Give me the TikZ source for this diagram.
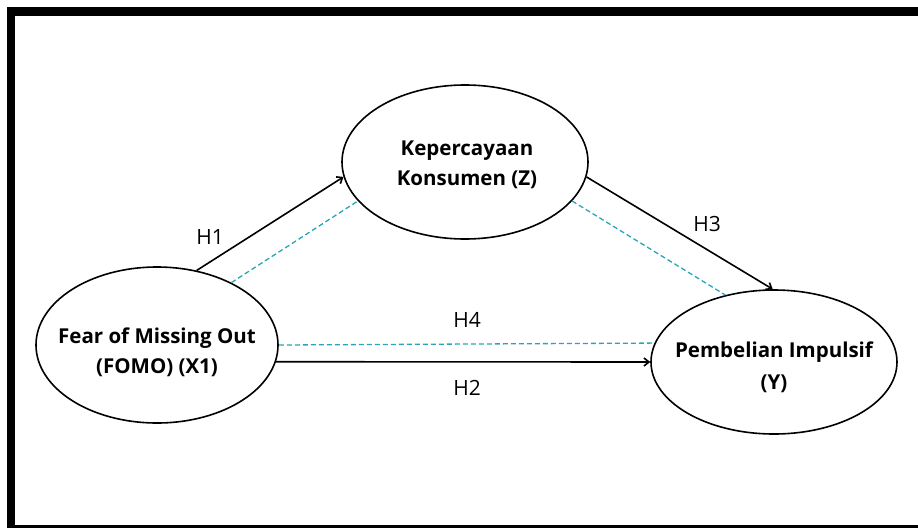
\documentclass[tikz,border=0pt]{standalone}
\usepackage{fontspec}
\setmainfont{Open Sans}
\usetikzlibrary{shapes.geometric,arrows.meta}
\definecolor{teal1}{RGB}{40,165,185}
\begin{document}
\begin{tikzpicture}[x=1pt,y=-1pt,
  var/.style={ellipse,draw,line width=1.6pt,inner sep=0pt},
  vartext/.style={align=center,inner sep=0pt,font=\fontsize{20.5}{30}\selectfont\bfseries},
  arrowline/.style={line width=1.6pt,-{Straight Barb[length=5pt,width=8pt]}},
  dashline/.style={line width=1.3pt,teal1,dash pattern=on 5pt off 3pt},
  lab/.style={font=\fontsize{21}{24}\selectfont}]
\useasboundingbox (0,0) rectangle (918,528);
\fill[black] (7,7) rectangle (918,16);
\fill[black] (7,7) rectangle (15,527);
\fill[black] (7,525) rectangle (918,527.5);
\node[var,minimum width=242pt,minimum height=156pt] (x) at (157,345) {};
\node[var,minimum width=246pt,minimum height=154pt] (z) at (465,162) {};
\node[var,minimum width=246pt,minimum height=144pt] (y) at (774,362) {};
\node[vartext] (xt) at (157,352) {Fear of Missing Out\\(FOMO) (X1)};
\node[vartext] (zt) at (467,165) {Kepercayaan\\Konsumen (Z)};
\node[vartext,font=\fontsize{20.5}{32}\selectfont\bfseries] (yt) at (774,367) {Pembelian Impulsif\\(Y)};
\draw[arrowline] (x.62) -- (z.187);
\draw[dashline] (x.40) -- (z.200);
\draw[arrowline] (z.-7) -- (y.91);
\draw[dashline] (z.-20) -- (y.126);
\draw[arrowline] (x.-8) -- (y.180);
\draw[dashline] (x.0) -- (y.171);
\node[lab] (h1) at (210,237) {H1};
\node[lab] (h3) at (707,224) {H3};
\node[lab] (h4) at (467,320) {H4};
\node[lab] (h2) at (467,388) {H2};
\end{tikzpicture}
\end{document}
